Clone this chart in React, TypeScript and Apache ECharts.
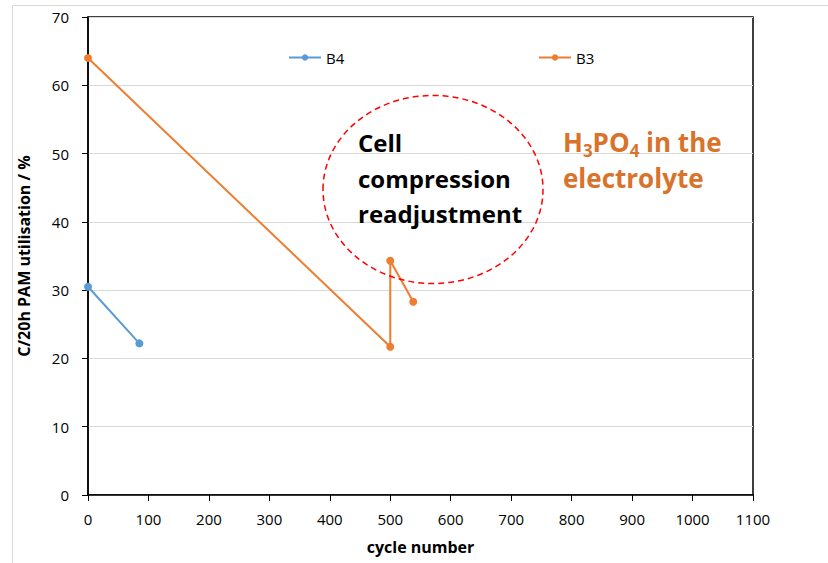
import React, { useEffect, useRef } from "react";
import * as echarts from "echarts";

const b4Cycles = [0, 85];
const b4Values = [30.5, 22.2];
const b3Cycles = [0, 500, 500, 538];
const b3Values = [64.0, 21.7, 34.3, 28.3];
const xTicks = { min: 0, max: 1100, interval: 100 };
const yTicks = { min: 0, max: 70, interval: 10 };

const FONT = "'Open Sans', 'Liberation Sans', sans-serif";
const ORANGE_TEXT = "#D9722B";

export default function App() {
  const ref = useRef<HTMLDivElement>(null);
  useEffect(() => {
    if (!ref.current) return;
    const chart = echarts.init(ref.current, null, { renderer: "svg" });
    const toPairs = (xs: number[], ys: number[]) => xs.map((x, i) => [x, ys[i]]);
    chart.setOption({
      animation: false,
      backgroundColor: "#ffffff",
      grid: { left: 88, top: 17, right: 75, bottom: 68, show: true, borderColor: "#000", borderWidth: 1.5, backgroundColor: "transparent" },
      legend: [
        {
          data: ["B4"], left: 283, top: 45, itemWidth: 32, itemHeight: 8, itemGap: 4,
          textStyle: { fontFamily: FONT, fontSize: 15, color: "#000" },
        },
        {
          data: ["B3"], left: 533, top: 45, itemWidth: 32, itemHeight: 8, itemGap: 4,
          textStyle: { fontFamily: FONT, fontSize: 15, color: "#000" },
        },
      ],
      xAxis: {
        type: "value",
        min: xTicks.min, max: xTicks.max, interval: xTicks.interval,
        name: "cycle number", nameLocation: "middle", nameGap: 44,
        nameTextStyle: { fontFamily: FONT, fontSize: 16, fontWeight: "bold", color: "#000" },
        axisLine: { lineStyle: { color: "#000", width: 1.5 } },
        axisTick: { show: true, length: 6, lineStyle: { color: "#000" } },
        axisLabel: { fontFamily: FONT, fontSize: 15, color: "#000", margin: 16, formatter: (v: number) => String(v) },
        splitLine: { show: false },
      },
      yAxis: {
        type: "value",
        min: yTicks.min, max: yTicks.max, interval: yTicks.interval,
        name: "C/20h PAM utilisation / %", nameLocation: "middle", nameGap: 56,
        nameTextStyle: { fontFamily: FONT, fontSize: 16, fontWeight: "bold", color: "#000" },
        axisLine: { show: true, lineStyle: { color: "#000", width: 1.5 } },
        axisTick: { show: true, length: 6, lineStyle: { color: "#000" } },
        axisLabel: { fontFamily: FONT, fontSize: 15, color: "#000", margin: 19 },
        splitLine: { show: true, lineStyle: { color: "#d9d9d9", width: 1 } },
      },
      series: [
        {
          name: "B4", type: "line", data: toPairs(b4Cycles, b4Values),
          symbol: "circle", symbolSize: 8,
          lineStyle: { color: "#5B9BD5", width: 2 }, itemStyle: { color: "#5B9BD5" },
        },
        {
          name: "B3", type: "line", data: toPairs(b3Cycles, b3Values),
          symbol: "circle", symbolSize: 8,
          lineStyle: { color: "#ED7D31", width: 2 }, itemStyle: { color: "#ED7D31" },
        },
      ],
      graphic: [
        {
          type: "rect", silent: true, z: -1,
          shape: { x: 12.5, y: 5.5, width: 830, height: 570 },
          style: { fill: "none", stroke: "#d9d9d9", lineWidth: 1 },
        },
        {
          type: "ellipse", silent: true, z: 100,
          shape: { cx: 433, cy: 189.5, rx: 110, ry: 94 },
          style: { fill: "none", stroke: "#ff0000", lineWidth: 1.5, lineDash: [6, 4] },
        },
        {
          type: "text", left: 358, top: 125, z: 100,
          style: {
            text: "Cell\ncompression\nreadjustment",
            fontFamily: FONT, fontSize: 24, fontWeight: "bold", fill: "#000", lineHeight: 35.5,
          },
        },
        {
          type: "text", left: 563, top: 124, z: 100,
          style: {
            text: "{n|H}{s|3}{n|PO}{s|4}{n| in the}",
            fontFamily: FONT, fill: ORANGE_TEXT,
            rich: {
              n: { fontFamily: FONT, fontSize: 26, fontWeight: "bold", fill: ORANGE_TEXT, color: ORANGE_TEXT, lineHeight: 34 },
              s: { fontFamily: FONT, fontSize: 17, fontWeight: "bold", fill: ORANGE_TEXT, color: ORANGE_TEXT, verticalAlign: "bottom", lineHeight: 10, padding: [18, 0, 0, 0] },
            },
          },
        },
        {
          type: "text", left: 563, top: 161, z: 100,
          style: {
            text: "electrolyte",
            fontFamily: FONT, fontSize: 26, fontWeight: "bold", fill: ORANGE_TEXT, lineHeight: 34,
          },
        },
      ],
    });
    return () => chart.dispose();
  }, []);
  return <div ref={ref} style={{ position: "fixed", left: 0, top: 0, width: 828, height: 563 }} />;
}
